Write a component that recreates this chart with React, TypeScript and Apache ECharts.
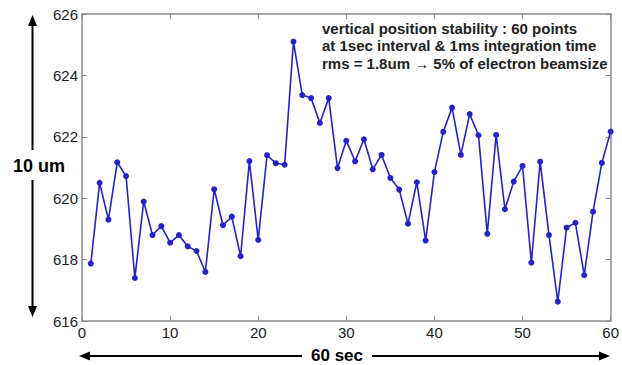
import React, { useEffect, useRef } from "react";
import * as echarts from "echarts";

const seconds: number[] = Array.from({ length: 60 }, (_, i) => i + 1);
const positions: number[] = [
  617.87, 620.5, 619.3, 621.17, 620.72, 617.4, 619.89, 618.8, 619.09, 618.55,
  618.8, 618.43, 618.28, 617.6, 620.29, 619.12, 619.4, 618.11, 621.21, 618.64,
  621.4, 621.14, 621.09, 625.1, 623.36, 623.26, 622.45, 623.26, 620.98, 621.87,
  621.2, 621.92, 620.94, 621.41, 620.66, 620.28, 619.17, 620.52, 618.62, 620.85,
  622.16, 622.95, 621.41, 622.74, 622.05, 618.84, 622.06, 619.64, 620.54, 621.05,
  617.9, 621.19, 618.8, 616.63, 619.04, 619.2, 617.49, 619.56, 621.15, 622.17,
];
const xTicks = { min: 0, max: 60, interval: 10 };
const yTicks = { min: 616, max: 626, interval: 2 };
const noteLines: string[] = [
  "vertical position stability : 60 points",
  "at 1sec interval & 1ms integration time",
  "rms = 1.8um \u2192 5% of electron beamsize",
];
const leftLabel = "10 um";
const bottomLabel = "60 sec";

const FONT = "'Liberation Sans', Arial, sans-serif";
const AXIS = "#8a8a8a";
const BLUE = "#2323c8";

export default function App() {
  const ref = useRef<HTMLDivElement>(null);
  useEffect(() => {
    if (!ref.current) return;
    const chart = echarts.init(ref.current, undefined, { renderer: "svg" });
    const axisCommon = {
      type: "value" as const,
      axisLine: { show: true, onZero: false, lineStyle: { color: AXIS, width: 1.5 } },
      axisTick: { show: true, inside: true, length: 5, lineStyle: { color: AXIS } },
      splitLine: { show: false },
    };
    const arrowStyle = { stroke: "#000", lineWidth: 2 };
    chart.setOption({
      animation: false,
      backgroundColor: "#fff",
      grid: { left: 82, right: 9, top: 14, bottom: 44 },
      xAxis: [
        {
          ...axisCommon,
          ...xTicks,
          position: "bottom",
          axisLabel: { color: "#222", fontSize: 15, fontFamily: FONT, margin: 4 },
        },
        { ...axisCommon, ...xTicks, position: "top", axisLabel: { show: false } },
      ],
      yAxis: [
        {
          ...axisCommon,
          ...yTicks,
          position: "left",
          axisLabel: { color: "#222", fontSize: 15, fontFamily: FONT, margin: 4 },
        },
        { ...axisCommon, ...yTicks, position: "right", axisLabel: { show: false } },
      ],
      series: [
        {
          type: "line",
          data: seconds.map((s, i) => [s, positions[i]]),
          symbol: "circle",
          symbolSize: 6,
          lineStyle: { color: BLUE, width: 1.6 },
          itemStyle: { color: BLUE },
        },
      ],
      graphic: [
        ...noteLines.map((t, i) => ({
          type: "text",
          x: 322,
          y: 28 + i * 17.5,
          style: { text: t, font: `bold 15px ${FONT}`, fill: "#222", verticalAlign: "middle" },
        })),
        // vertical arrow
        { type: "line", shape: { x1: 32.5, y1: 24, x2: 32.5, y2: 150 }, style: arrowStyle },
        { type: "line", shape: { x1: 32.5, y1: 180, x2: 32.5, y2: 308 }, style: arrowStyle },
        { type: "polygon", shape: { points: [[32.5, 15], [28, 26], [37, 26]] }, style: { fill: "#000" } },
        { type: "polygon", shape: { points: [[32.5, 317], [28, 306], [37, 306]] }, style: { fill: "#000" } },
        {
          type: "text",
          x: 39,
          y: 166,
          style: { text: leftLabel, font: `bold 18px ${FONT}`, fill: "#000", align: "center", verticalAlign: "middle" },
        },
        // horizontal arrow
        { type: "line", shape: { x1: 88, y1: 356, x2: 302, y2: 356 }, style: arrowStyle },
        { type: "line", shape: { x1: 372, y1: 356, x2: 601, y2: 356 }, style: arrowStyle },
        { type: "polygon", shape: { points: [[79, 356], [90, 351.5], [90, 360.5]] }, style: { fill: "#000" } },
        { type: "polygon", shape: { points: [[610, 356], [599, 351.5], [599, 360.5]] }, style: { fill: "#000" } },
        {
          type: "text",
          x: 337,
          y: 355,
          style: { text: bottomLabel, font: `bold 17px ${FONT}`, fill: "#000", align: "center", verticalAlign: "middle" },
        },
      ],
    });
    return () => chart.dispose();
  }, []);
  return (
    <div
      ref={ref}
      style={{ position: "fixed", left: 0, top: 0, width: 622, height: 365, background: "#fff" }}
    />
  );
}
